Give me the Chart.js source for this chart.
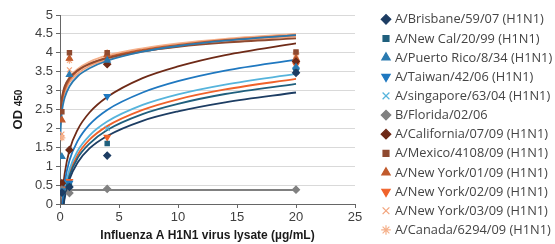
<!DOCTYPE html>
<html>
<head>
<meta charset="utf-8">
<script src="https://cdn.jsdelivr.net/npm/chart.js@4/dist/chart.umd.min.js"></script>
<style>
  html, body { margin: 0; padding: 0; background: #fff; }
  #wrap { width: 555px; height: 244px; position: relative; }
</style>
</head>
<body>
<div id="wrap"><canvas id="chart"></canvas></div>
<script>
// Strains (legend order)
const strains = [
    "A/Brisbane/59/07 (H1N1)",
    "A/New Cal/20/99 (H1N1)",
    "A/Puerto Rico/8/34 (H1N1)",
    "A/Taiwan/42/06 (H1N1)",
    "A/singapore/63/04 (H1N1)",
    "B/Florida/02/06",
    "A/California/07/09 (H1N1)",
    "A/Mexico/4108/09 (H1N1)",
    "A/New York/01/09 (H1N1)",
    "A/New York/02/09 (H1N1)",
    "A/New York/03/09 (H1N1)",
    "A/Canada/6294/09 (H1N1)"
];
const colors = ['#1d3d63', '#1f5f7d', '#2a7ab0', '#1f78c0', '#56b4dc', '#808080',
                '#6e2a17', '#8f4a30', '#c15a2c', '#f0622a', '#f2a37b', '#f5b08a'];
const markers = ['rectRot', 'rect', 'triangle', 'triangle', 'crossRot', 'rectRot',
                 'rectRot', 'rect', 'triangle', 'triangle', 'crossRot', 'star'];
const markerRot = [0, 0, 0, 180, 0, 0, 0, 0, 0, 180, 0, 0];

// Measured OD450 values (x = lysate µg/mL)
const doses = [0.16, 0.8, 4, 20];
const odBrisbane   = [0.30, 0.45, 1.28, 3.47];
const odNewCal     = [0.30, 0.47, 1.60, 3.50];
const odPuertoRico = [1.25, 3.42, 3.80, 3.62];
const odTaiwan     = [0.35, 0.55, 2.85, 3.55];
const odSingapore  = [0.30, 0.50, 2.00, 3.58];
const odFlorida    = [0.38, 0.29, 0.40, 0.38];
const odCalifornia = [0.55, 1.43, 3.70, 3.77];
const odMexico     = [2.44, 4.00, 4.00, 4.02];
const odNY01       = [2.22, 3.85, 3.95, 3.85];
const odNY02       = [0.40, 0.60, 1.77, 3.68];
const odNY03       = [1.85, 3.55, 3.98, 3.92];
const odCanada     = [1.75, 3.80, 4.00, 3.97];

// Trend curves
const fitX = [0.032, 0.06, 0.1, 0.16, 0.25, 0.4, 0.8, 1.5, 2.5, 4, 7, 10, 14, 20];
const fitBrisbane   = [-1.64, -1.19, -0.83, -0.49, -0.18, 0.16, 0.65, 1.10, 1.47, 1.80, 2.20, 2.45, 2.69, 2.95];
const fitNewCal     = [-1.69, -1.22, -0.83, -0.48, -0.14, 0.22, 0.74, 1.22, 1.60, 1.96, 2.38, 2.65, 2.91, 3.18];
const fitPuertoRico = [1.75, 2.02, 2.23, 2.43, 2.62, 2.82, 3.11, 3.38, 3.59, 3.79, 4.03, 4.18, 4.32, 4.47];
const fitTaiwan     = [-1.52, -1.00, -0.58, -0.19, 0.19, 0.58, 1.15, 1.67, 2.10, 2.49, 2.95, 3.25, 3.53, 3.82];
const fitSingapore  = [-1.61, -1.12, -0.72, -0.35, 0.00, 0.37, 0.91, 1.41, 1.81, 2.18, 2.62, 2.90, 3.16, 3.44];
const fitFlorida    = [0.37, 0.37, 0.37, 0.37, 0.37, 0.37, 0.37, 0.37, 0.37, 0.37, 0.37, 0.37, 0.37, 0.37];
const fitCalifornia = [-1.42, -0.86, -0.41, 0.00, 0.39, 0.81, 1.42, 1.97, 2.42, 2.83, 3.33, 3.64, 3.94, 4.25];
const fitMexico     = [2.30, 2.50, 2.67, 2.82, 2.96, 3.12, 3.34, 3.54, 3.71, 3.86, 4.04, 4.16, 4.27, 4.38];
const fitNY01       = [2.10, 2.33, 2.52, 2.69, 2.86, 3.03, 3.29, 3.52, 3.70, 3.88, 4.08, 4.21, 4.34, 4.47];
const fitNY02       = [-1.68, -1.19, -0.80, -0.43, -0.09, 0.28, 0.81, 1.30, 1.70, 2.06, 2.49, 2.77, 3.03, 3.31];
const fitNY03       = [2.00, 2.24, 2.43, 2.61, 2.78, 2.95, 3.22, 3.45, 3.65, 3.82, 4.03, 4.17, 4.30, 4.43];
const fitCanada     = [2.20, 2.43, 2.61, 2.78, 2.93, 3.10, 3.35, 3.57, 3.76, 3.93, 4.12, 4.25, 4.37, 4.50];

const pointSets = [odBrisbane, odNewCal, odPuertoRico, odTaiwan, odSingapore, odFlorida,
                   odCalifornia, odMexico, odNY01, odNY02, odNY03, odCanada];
const fitSets = [fitBrisbane, fitNewCal, fitPuertoRico, fitTaiwan, fitSingapore, fitFlorida,
                 fitCalifornia, fitMexico, fitNY01, fitNY02, fitNY03, fitCanada];

const toXY = (xs, ys) => xs.map((x, i) => ({ x: x, y: ys[i] }));

const datasets = [];
fitSets.forEach((ys, i) => {
    datasets.push({
        label: strains[i] + ' fit',
        data: toXY(fitX, ys),
        showLine: true,
        borderColor: colors[i],
        borderWidth: 1.8,
        pointRadius: 0,
        cubicInterpolationMode: 'monotone',
        order: 2
    });
});
pointSets.forEach((ys, i) => {
    datasets.push({
        label: strains[i],
        data: toXY(doses, ys),
        pointStyle: markers[i],
        rotation: markerRot[i],
        pointRadius: markers[i] === 'rect' ? 3 : 3.5,
        backgroundColor: colors[i],
        borderColor: colors[i],
        borderWidth: 1.2,
        order: 1
    });
});

// Y title "OD 450" with the smaller 450, and the side legend
const decorPlugin = {
    id: 'decor',
    afterDraw(chart) {
        const ctx = chart.ctx;
        const area = chart.chartArea;
        ctx.save();
        ctx.translate(18, (area.top + area.bottom) / 2);
        ctx.rotate(-Math.PI / 2);
        ctx.fillStyle = '#1a1a1a';
        ctx.textBaseline = 'middle';
        ctx.font = "bold 13px 'Liberation Sans', Arial, sans-serif";
        const w1 = ctx.measureText('OD ').width;
        ctx.font = "bold 10px 'Liberation Sans', Arial, sans-serif";
        const w2 = ctx.measureText('450').width;
        const x0 = -(w1 + w2) / 2;
        ctx.font = "bold 13px 'Liberation Sans', Arial, sans-serif";
        ctx.fillText('OD ', x0, 0);
        ctx.font = "bold 10px 'Liberation Sans', Arial, sans-serif";
        ctx.fillText('450', x0 + w1, 1);
        ctx.restore();

        // legend
        ctx.save();
        ctx.font = "12.8px 'Open Sans', sans-serif";
        ctx.textBaseline = 'middle';
        strains.forEach((name, i) => {
            const y = 19.3 + i * 19.15;
            ctx.fillStyle = colors[i];
            ctx.strokeStyle = colors[i];
            ctx.lineWidth = 1.2;
            Chart.helpers.drawPoint(ctx, {
                pointStyle: markers[i],
                rotation: markerRot[i],
                radius: markers[i] === 'rect' ? 4.2 : 4.8,
                borderWidth: 1.2
            }, 386, y);
            ctx.fillStyle = '#444';
            ctx.fillText(name, 395, y + 0.5);
        });
        ctx.restore();
    }
};

new Chart(document.getElementById('chart'), {
    type: 'scatter',
    data: { datasets: datasets },
    plugins: [decorPlugin],
    options: {
        responsive: true,
        maintainAspectRatio: false,
        animation: false,
        layout: { padding: { top: 15, right: 200, left: 0, bottom: 0 } },
        plugins: {
            legend: { display: false },
            tooltip: { enabled: false }
        },
        scales: {
            x: {
                type: 'linear',
                min: 0,
                max: 25,
                afterFit: (scale) => { scale.height = 40; },
                ticks: {
                    stepSize: 5,
                    color: '#404040',
                    padding: 2,
                    font: { family: "'Liberation Sans Narrow', 'Arial Narrow', 'Liberation Sans', sans-serif", size: 13 }
                },
                grid: { drawOnChartArea: false, tickLength: 4, tickColor: '#666' },
                border: { color: '#666', width: 1 },
                title: {
                    display: true,
                    text: 'Influenza A H1N1 virus lysate (µg/mL)',
                    color: '#1a1a1a',
                    padding: { top: 0, bottom: 1 },
                    font: { family: "'Liberation Sans', Arial, sans-serif", size: 12, weight: 'bold' }
                }
            },
            y: {
                min: 0,
                max: 5,
                afterFit: (scale) => { scale.width = 60; },
                ticks: {
                    stepSize: 0.5,
                    color: '#404040',
                    padding: 3,
                    callback: (v) => String(v),
                    font: { family: "'Liberation Sans Narrow', 'Arial Narrow', 'Liberation Sans', sans-serif", size: 13 }
                },
                grid: { color: '#d9d9d9', tickLength: 4, tickColor: '#666' },
                border: { color: '#666', width: 1 }
            }
        }
    }
});
</script>
</body>
</html>
